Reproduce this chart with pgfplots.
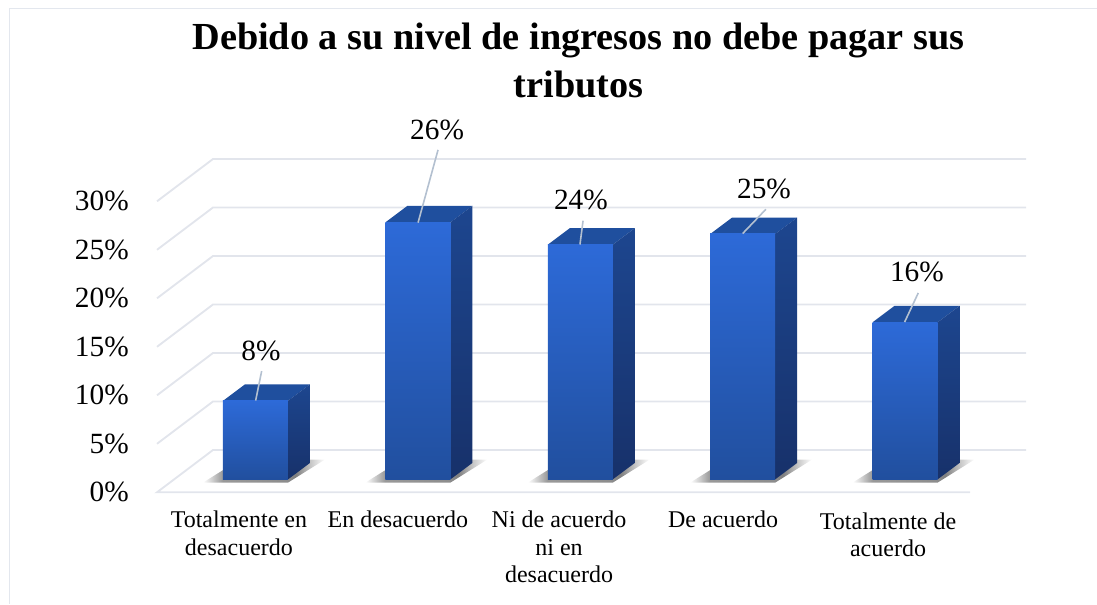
\documentclass[border=0pt]{standalone}
\usepackage{fontspec}
\setmainfont{Liberation Serif}
\usepackage{pgfplots}
\pgfplotsset{compat=1.18}
\definecolor{gridc}{HTML}{E2E5EC}
\definecolor{framec}{HTML}{E3E7EE}
\definecolor{leaderc}{HTML}{B3C0D0}
\definecolor{frontT}{HTML}{2D6AD8}
\definecolor{frontB}{HTML}{214F9E}
\definecolor{sideT}{HTML}{1D468F}
\definecolor{sideB}{HTML}{17316A}
\definecolor{topc}{HTML}{1F4F9E}
\pgfdeclarehorizontalshading{barshade}{100bp}{rgb(0bp)=(1,1,1); rgb(25bp)=(1,1,1); rgb(33bp)=(.6,.6,.6); rgb(60bp)=(.55,.55,.55); rgb(63bp)=(.5,.5,.5); rgb(69bp)=(.78,.78,.78); rgb(75bp)=(1,1,1); rgb(100bp)=(1,1,1)}
\begin{document}
\begin{tikzpicture}
\path[use as bounding box] (-117.75pt,-83.775pt) rectangle ++(822.75pt,453pt);
\begin{axis}[
  at={(0,0)}, anchor=south west,
  scale only axis, width=609.75pt, height=218.25pt,
  xmin=-0.6065, xmax=4.3996, ymin=0, ymax=30,
  enlargelimits=false, clip=false,
  axis line style={draw=none}, tick style={draw=none}, major tick length=0pt,
  xticklabel pos=bottom, yticklabel pos=left,
  ytick={0,5,...,30},
  yticklabels={0\%,5\%,10\%,15\%,20\%,25\%,30\%\hspace{2.25pt}},
  yticklabel style={font=\fontsize{22}{24}\selectfont, inner sep=0pt, xshift=-21pt},
  xtick={-0.102,0.877,1.869,2.879,3.895},
  xticklabels={{Totalmente en\\desacuerdo},{En desacuerdo},{Ni de acuerdo\\ni en\\desacuerdo},{De acuerdo},{\rule{0pt}{13.5pt}Totalmente de\\acuerdo}},
  xticklabel style={font=\fontsize{18}{20.6}\selectfont, align=center, inner sep=0pt, yshift=-14pt},
  title={Debido a su nivel de ingresos no debe pagar sus\\tributos},
  title style={at={(axis cs:1.989,43.7)}, anchor=center, align=center, inner sep=0pt, font=\fontsize{28.7}{36}\selectfont\bfseries},
  grid line/.style={color=gridc, line width=1.4pt},
  floor/.style={yshift=9.675pt},
  front/.style={ybar, bar width=48.75pt, draw=none, top color=frontT, bottom color=frontB, floor},
  side/.style={draw=none, top color=sideT, bottom color=sideB, floor},
  lid/.style={draw=none, fill=topc, floor},
  leader/.style={color=leaderc, line width=1.2pt},
]
% chart frame, left and top only
\addplot[color=framec, line width=1.4pt] coordinates {(-1.515,-11.5)(-1.515,49.88)(5.2,49.88)};

% floor and walls
\addplot[grid line] coordinates {(4.3996,0)(-0.6065,0)(-0.2617,4.36)(4.7445,4.36)};
\addplot[grid line] coordinates {(-0.6065,5)(-0.2617,9.36)(4.7445,9.36)};
\addplot[grid line] coordinates {(-0.6065,10)(-0.2617,14.36)(4.7445,14.36)};
\addplot[grid line] coordinates {(-0.6065,15)(-0.2617,19.36)(4.7445,19.36)};
\addplot[grid line] coordinates {(-0.6065,20)(-0.2617,24.36)(4.7445,24.36)};
\addplot[grid line] coordinates {(-0.6065,25)(-0.2617,29.36)(4.7445,29.36)};
\addplot[grid line] coordinates {(-0.6065,30)(-0.2617,34.36)(4.7445,34.36)};

% shadows on the floor
\pgfplotsinvokeforeach{0,1,2,3,4}{
  \addplot[draw=none, shading=barshade, xshift=#1*121.8pt] coordinates {(-0.3233,1.0)(0.2001,1.0)(0.4280,3.38)(-0.0957,3.38)} --cycle;
}

% bars
\addplot[lid] coordinates {(-0.2,8.1)(0.2,8.1)(0.3355,9.8)(-0.0645,9.8)} --cycle;
\addplot[side] coordinates {(0.2,0)(0.2,8.1)(0.3355,9.8)(0.3355,1.7)} --cycle;
\addplot[front] coordinates {(0,8.1)};

\addplot[lid] coordinates {(0.8,26.5)(1.2,26.5)(1.3355,28.2)(0.9355,28.2)} --cycle;
\addplot[side] coordinates {(1.2,0)(1.2,26.5)(1.3355,28.2)(1.3355,1.7)} --cycle;
\addplot[front] coordinates {(1,26.5)};

\addplot[lid] coordinates {(1.8,24.2)(2.2,24.2)(2.3355,25.9)(1.9355,25.9)} --cycle;
\addplot[side] coordinates {(2.2,0)(2.2,24.2)(2.3355,25.9)(2.3355,1.7)} --cycle;
\addplot[front] coordinates {(2,24.2)};

\addplot[lid] coordinates {(2.8,25.3)(3.2,25.3)(3.3355,27.0)(2.9355,27.0)} --cycle;
\addplot[side] coordinates {(3.2,0)(3.2,25.3)(3.3355,27.0)(3.3355,1.7)} --cycle;
\addplot[front] coordinates {(3,25.3)};

\addplot[lid] coordinates {(3.8,16.2)(4.2,16.2)(4.3355,17.9)(3.9355,17.9)} --cycle;
\addplot[side] coordinates {(4.2,0)(4.2,16.2)(4.3355,17.9)(4.3355,1.7)} --cycle;
\addplot[front] coordinates {(4,16.2)};

% leader lines
\addplot[leader] coordinates {(0.001,9.46)(0.038,12.5)};
\addplot[leader] coordinates {(1.001,27.8)(1.124,35.3)};
\addplot[leader] coordinates {(1.998,25.55)(2.017,28.0)};
\addplot[leader] coordinates {(3.0,26.68)(3.143,29.18)};
\addplot[leader] coordinates {(3.997,17.55)(4.081,20.55)};

% value labels
\addplot[draw=none, point meta=explicit symbolic,
  nodes near coords={\pgfplotspointmeta\%},
  nodes near coords style={anchor=center, inner sep=0pt, font=\fontsize{22}{24}\selectfont},
] table[meta=lab] {
x y lab
0.034 14.57 8
1.118 37.35 26
2.004 30.13 24
3.131 31.27 25
4.073 22.71 16
};
\end{axis}
\end{tikzpicture}
\end{document}
